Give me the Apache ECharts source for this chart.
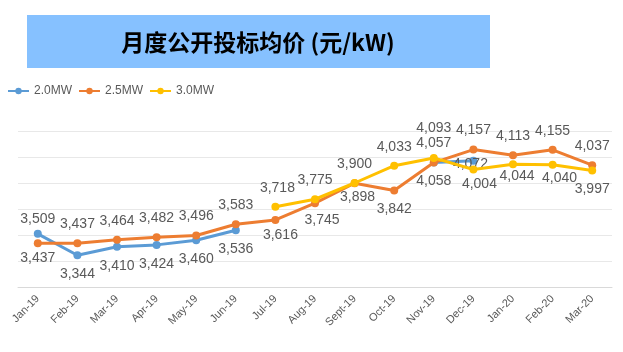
<!DOCTYPE html>
<html>
<head>
<meta charset="utf-8">
<script src="https://cdn.jsdelivr.net/npm/echarts@6/dist/echarts.min.js"></script>
<style>
    html, body { margin: 0; padding: 0; background: #fff; }
    #chart { width: 623px; height: 352px; }
</style>
</head>
<body>
<div id="chart"></div>
<script>
// 数据
var months = ['Jan-19', 'Feb-19', 'Mar-19', 'Apr-19', 'May-19', 'Jun-19', 'Jul-19', 'Aug-19',
    'Sept-19', 'Oct-19', 'Nov-19', 'Dec-19', 'Jan-20', 'Feb-20', 'Mar-20'];
var seriesNames = ['2.0MW', '2.5MW', '3.0MW'];
var mw20 = [3509, 3344, 3410, 3424, 3460, 3536, null, null, null, null, 4058, 4072, null, null, null];
var mw25 = [3437, 3437, 3464, 3482, 3496, 3583, 3616, 3745, 3898, 3842, 4057, 4157, 4113, 4155, 4037];
var mw30 = [null, null, null, null, null, null, 3718, 3775, 3900, 4033, 4093, 4004, 4044, 4040, 3997];

// 标签位置 (t = 上, b = 下, c = 居中)
var pos20 = 'tbbbbb----bc---';
var pos25 = 'btttttbbbbttttt';
var pos30 = '------tttttbbbb';
// 个别标签微调
var nudge = {
    '0-0': [0, 4], '0-11': [-3, 4],
    '1-0': [0, -4], '1-6': [5, -4], '1-7': [7, -2], '1-8': [3, -5],
    '2-6': [2, 0], '2-10': [0, -11], '2-11': [6, -4], '2-12': [4, -7], '2-13': [7, -6]
};

var colors = ['#5B9BD5', '#ED7D31', '#FFC000'];
var posMap = { t: 'top', b: 'bottom', c: 'inside' };

function buildData(values, pos, idx) {
    return values.map(function (v, i) {
        if (v === null) return null;
        var item = { value: v, label: { position: posMap[pos[i]] || 'top' } };
        var off = nudge[idx + '-' + i];
        if (off) item.label.offset = off;
        return item;
    });
}

function makeSeries(name, values, pos, idx) {
    return {
        name: name,
        type: 'line',
        yAxisIndex: 0,
        data: buildData(values, pos, idx),
        symbol: 'circle',
        symbolSize: 8,
        showAllSymbol: true,
        connectNulls: false,
        lineStyle: { width: 3, color: colors[idx] },
        itemStyle: { color: colors[idx] },
        label: {
            show: true,
            distance: 8,
            color: '#595959',
            fontSize: 14,
            fontFamily: 'Liberation Sans',
            formatter: function (p) {
                return p.value.toLocaleString('en-US');
            }
        },
        emphasis: { disabled: true },
        z: 2 + idx
    };
}

var chart = echarts.init(document.getElementById('chart'));

var option = {
    animation: false,
    color: colors,
    graphic: [{
        type: 'rect',
        shape: { x: 27, y: 15, width: 463, height: 53 },
        style: { fill: '#86C1FF' }
    }, {
        type: 'text',
        x: 258,
        y: 42,
        style: {
            text: '月度公开投标均价 (元/kW)',
            fill: '#000',
            font: 'bold 23px "Noto Sans CJK SC"',
            textAlign: 'center',
            textVerticalAlign: 'middle'
        }
    }],
    legend: {
        data: seriesNames,
        left: 2,
        top: 80,
        itemWidth: 21,
        itemHeight: 8,
        itemGap: 6,
        textStyle: { color: '#595959', fontSize: 12, fontFamily: 'Liberation Sans' }
    },
    grid: { left: 18, right: 11, top: 131, bottom: 65 },
    xAxis: {
        type: 'category',
        data: months,
        boundaryGap: true,
        axisLine: { lineStyle: { color: '#d9d9d9' } },
        axisTick: { show: false },
        axisLabel: {
            rotate: 45,
            margin: 10,
            fontSize: 11,
            color: '#595959',
            fontFamily: 'Liberation Sans'
        }
    },
    yAxis: [{
        // 数值轴 (隐藏)
        type: 'value',
        min: 3100,
        max: 4300,
        show: false,
        splitLine: { show: false }
    }, {
        // 网格线
        type: 'value',
        min: 0,
        max: 1200,
        interval: 200,
        axisLine: { show: false },
        axisTick: { show: false },
        axisLabel: { show: false },
        splitLine: { lineStyle: { color: '#e8e8e8' } }
    }],
    series: [
        makeSeries(seriesNames[0], mw20, pos20, 0),
        makeSeries(seriesNames[1], mw25, pos25, 1),
        makeSeries(seriesNames[2], mw30, pos30, 2)
    ]
};

chart.setOption(option);
</script>
</body>
</html>
